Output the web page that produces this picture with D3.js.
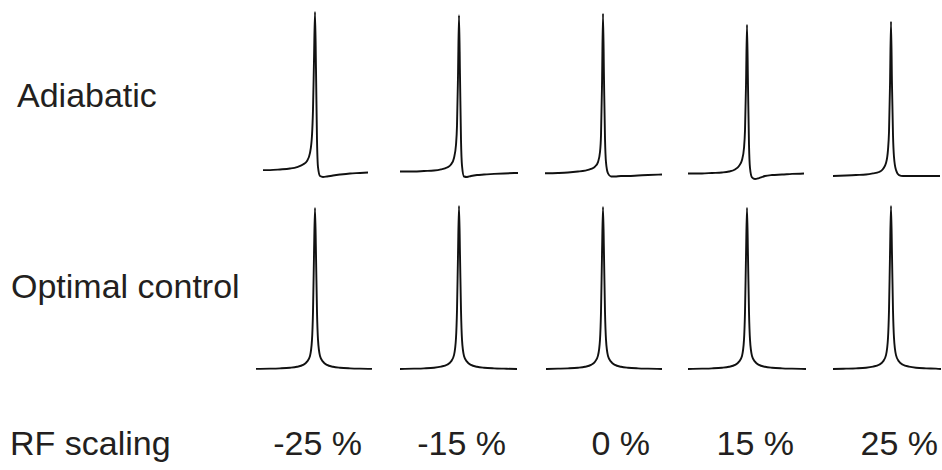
<!DOCTYPE html>
<html lang="en">
<head>
    <meta charset="UTF-8">
    <title>RF scaling spectra</title>
    <script src="https://d3js.org/d3.v7.min.js"></script>
    <style>
        body{ margin:0; background:#fff; }
        text{ font-family:"Liberation Sans", Arial, sans-serif; font-size:34px; fill:#231f20; }
        path.spec{ fill:none; stroke:#111; stroke-width:1.9; stroke-linejoin:round; }
    </style>
</head>
<body>
<script>
    // column and row labels
    const columns = ["-25 %", "-15 %", "0 %", "15 %", "25 %"];
    const rows = ["Adiabatic", "Optimal control"];

    // frequency offsets shared by all spectra (interior points, arbitrary units)
    const offsets = [-45, -35, -25, -18, -12, -8, -5, -3, -2, -1, 0, 1, 2, 3, 5, 8, 12, 18, 25, 35, 45];

    // where each trace starts / ends
    const adiabaticStart = [-52, -59, -58, -59, -58];
    const adiabaticEnd = [53, 59, 59, 57, 49];
    const optimalStart = [-59, -59, -57, -59, -58];
    const optimalEnd = [57, 58, 59, 59, 50];

    // intensities: [start, ...offsets, end], normalised to the tallest peak
    const adiabatic = [
        [0.012, 0.012, 0.016, 0.022, 0.031, 0.047, 0.069, 0.12, 0.23, 0.39, 0.7, 1.0, 0.64, 0.2, 0.03, -0.025, -0.031, -0.028, -0.022, -0.016, -0.009, -0.006, -0.003],
        [0.003, 0.003, 0.006, 0.009, 0.016, 0.028, 0.047, 0.088, 0.17, 0.29, 0.6, 0.98, 0.6, 0.2, 0.04, -0.028, -0.031, -0.025, -0.019, -0.016, -0.012, -0.009, -0.006],
        [-0.008, -0.006, -0.003, 0.003, 0.009, 0.019, 0.034, 0.062, 0.125, 0.23, 0.54, 0.99, 0.58, 0.21, 0.06, -0.009, -0.028, -0.028, -0.025, -0.025, -0.022, -0.019, -0.016],
        [-0.009, -0.009, -0.006, -0.003, 0.003, 0.016, 0.038, 0.075, 0.15, 0.26, 0.54, 0.92, 0.54, 0.17, 0.025, -0.034, -0.044, -0.038, -0.025, -0.019, -0.016, -0.012, -0.009],
        [-0.025, -0.022, -0.019, -0.016, -0.009, 0, 0.019, 0.056, 0.14, 0.25, 0.54, 0.94, 0.54, 0.23, 0.094, 0.012, -0.019, -0.025, -0.025, -0.025, -0.025, -0.025, -0.025]
    ];
    const optimal = [
        [0.001, 0.002, 0.004, 0.008, 0.014, 0.025, 0.045, 0.08, 0.18, 0.35, 0.7, 0.988, 0.7, 0.35, 0.18, 0.08, 0.045, 0.025, 0.014, 0.008, 0.004, 0.002, 0.001],
        [0, 0.002, 0.004, 0.008, 0.015, 0.026, 0.046, 0.085, 0.19, 0.36, 0.7, 1.0, 0.7, 0.36, 0.18, 0.08, 0.045, 0.025, 0.014, 0.008, 0.004, 0.002, 0],
        [0, 0.002, 0.004, 0.008, 0.014, 0.025, 0.045, 0.082, 0.18, 0.35, 0.7, 0.994, 0.7, 0.35, 0.18, 0.08, 0.045, 0.025, 0.014, 0.008, 0.004, 0.002, 0],
        [0, 0.002, 0.004, 0.008, 0.014, 0.025, 0.045, 0.08, 0.18, 0.35, 0.69, 0.99, 0.69, 0.35, 0.18, 0.08, 0.045, 0.025, 0.014, 0.008, 0.004, 0.002, 0],
        [0, 0.002, 0.004, 0.008, 0.015, 0.026, 0.046, 0.085, 0.19, 0.36, 0.7, 1.0, 0.7, 0.36, 0.19, 0.085, 0.046, 0.026, 0.015, 0.008, 0.004, 0.002, 0]
    ];

    const width = 942;
    const height = 470;

    const svg = d3.select("body").append("svg")
        .attr("width", width)
        .attr("height", height)
        .attr("viewBox", `0 0 ${width} ${height}`);

    const colScale = d3.scalePoint().domain(columns).range([315, 891]);

    const yScales = [
        d3.scaleLinear().domain([0, 1]).range([172, 12]),
        d3.scaleLinear().domain([0, 1]).range([369, 206])
    ];

    const rowData = [
        {name: rows[0], values: adiabatic, start: adiabaticStart, end: adiabaticEnd, labelX: 17, labelY: 107},
        {name: rows[1], values: optimal, start: optimalStart, end: optimalEnd, labelX: 11, labelY: 298}
    ];

    rowData.forEach((row, r) => {
        const y = yScales[r];
        const g = svg.append("g");

        g.append("text")
            .attr("x", row.labelX)
            .attr("y", row.labelY)
            .text(row.name);

        columns.forEach((col, i) => {
            const c = colScale(col);
            const x = d3.scaleLinear().domain([-60, 60]).range([c - 60, c + 60]);
            const xs = [row.start[i], ...offsets, row.end[i]];
            const pts = xs.map((o, k) => [o, row.values[i][k]]);

            const line = d3.line()
                .x(d => x(d[0]))
                .y(d => y(d[1]))
                .curve(d3.curveMonotoneX);

            g.append("path")
                .attr("class", "spec")
                .attr("d", line(pts));
        });
    });

    // bottom axis-like labels
    svg.append("text")
        .attr("x", 10)
        .attr("y", 455)
        .text("RF scaling");

    svg.append("g")
        .selectAll("text")
        .data(columns)
        .enter()
        .append("text")
        .attr("x", d => colScale(d) + 47)
        .attr("y", 455)
        .attr("text-anchor", "end")
        .text(d => d);
</script>
</body>
</html>
